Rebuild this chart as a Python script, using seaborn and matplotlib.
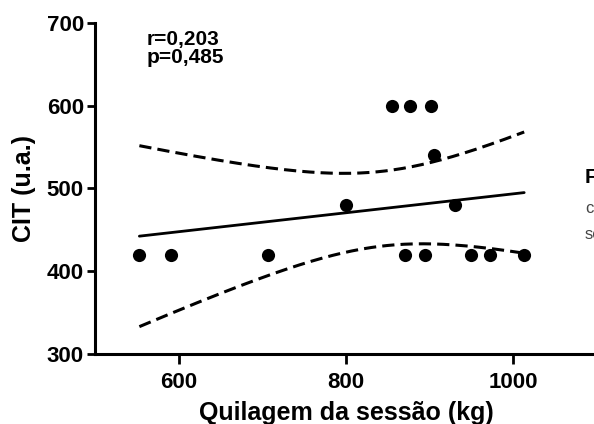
"""
CIT vs quilagem da sessão - scatter com regressão linear e banda de confiança 95%
"""

import numpy as np
import pandas as pd
import matplotlib
matplotlib.use('Agg')
import matplotlib.pyplot as plt
import seaborn as sns

# ── Dados ──────────────────────────────────────────────────────────────────────
quilagem = [553, 591, 707, 800, 855, 870, 877, 895, 902, 905, 930, 950, 972, 1013]
cit      = [420, 420, 420, 480, 600, 420, 600, 420, 600, 540, 480, 420, 420, 420]

x_ticks = [600, 800, 1000]
y_ticks = [300, 400, 500, 600, 700]
stats_txt = "r=0,203\np=0,485"

df = pd.DataFrame({'quilagem': quilagem, 'cit': cit})

# ── Estilo ─────────────────────────────────────────────────────────────────────
sns.set_style('ticks')
plt.rcParams['font.family'] = ['Liberation Sans', 'DejaVu Sans']
plt.rcParams['font.weight'] = 'bold'
plt.rcParams['text.color'] = 'black'
plt.rcParams['axes.labelcolor'] = 'black'
plt.rcParams['xtick.color'] = 'black'
plt.rcParams['ytick.color'] = 'black'

fig = plt.figure(figsize=(5.94, 4.24), dpi=100)
ax = fig.add_axes([0.16, 0.165, 0.845, 0.781])

# ── Regressão ──────────────────────────────────────────────────────────────────
sns.regplot(data=df, x='quilagem', y='cit', ax=ax, ci=None, truncate=True,
            scatter_kws={'s': 90, 'color': 'black', 'alpha': 1,
                         'linewidths': 0, 'zorder': 3},
            line_kws={'color': 'black', 'lw': 2.0})

# banda de confiança 95% (t crítico, gl = n-2 = 12)
x = df['quilagem'].to_numpy(float)
y = df['cit'].to_numpy(float)
n = len(x)
b, a = np.polyfit(x, y, 1)
resid = y - (a + b * x)
s_err = np.sqrt(np.sum(resid ** 2) / (n - 2))
t_crit = 2.179
xs = np.linspace(x.min(), x.max(), 200)
se_fit = s_err * np.sqrt(1 / n + (xs - x.mean()) ** 2 / np.sum((x - x.mean()) ** 2))
fit = a + b * xs
for band in (fit + t_crit * se_fit, fit - t_crit * se_fit):
    ax.plot(xs, band, color='black', lw=2.2, ls=(0, (4, 2)))

# ── Eixos ──────────────────────────────────────────────────────────────────────
ax.set_xlim(500, 1100)
ax.set_ylim(300, 700)
ax.set_xticks(x_ticks)
ax.set_yticks(y_ticks)
ax.set_xlabel('Quilagem da sessão (kg)', fontsize=18, fontweight='bold', labelpad=6)
ax.set_ylabel('CIT (u.a.)', fontsize=18, fontweight='bold', labelpad=8)
ax.tick_params(axis='x', length=7, pad=6)
ax.tick_params(axis='y', length=6, pad=2)
ax.tick_params(axis='both', labelsize=16, width=2, color='black')
for lab in ax.get_xticklabels() + ax.get_yticklabels():
    lab.set_fontweight('bold')
for side in ['left', 'bottom']:
    ax.spines[side].set_linewidth(2.2)
    ax.spines[side].set_color('black')
sns.despine(ax=ax)

ax.text(562, 692, stats_txt, fontsize=15, fontweight='bold', va='top', ha='left',
        linespacing=0.95)

# texto da legenda cortado à direita
fig.text(585 / 594, 1 - 178 / 424, 'Figura', fontsize=15, fontweight='bold',
         va='center', ha='left')
fig.text(585 / 594, 1 - 208 / 424, 'correlação', fontsize=12, fontweight='normal',
         color='#444444', va='center', ha='left')
fig.text(585 / 594, 1 - 234 / 424, 'sessão', fontsize=12, fontweight='normal',
         color='#444444', va='center', ha='left')

fig.savefig('out.png', dpi=100)
plt.close(fig)
